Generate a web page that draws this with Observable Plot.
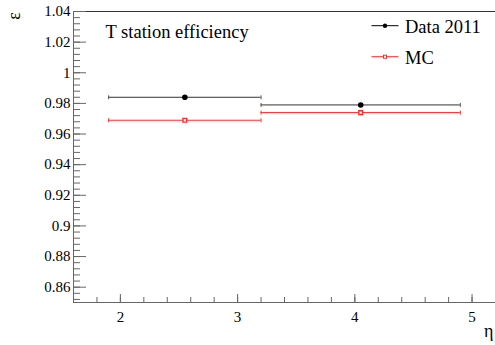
<!DOCTYPE html>
<html>
<head>
<meta charset="utf-8">
<script src="https://cdn.jsdelivr.net/npm/d3@7"></script>
<script src="https://cdn.jsdelivr.net/npm/@observablehq/plot@0.6"></script>
<style>
  body { margin: 0; background: #fff; }
  #chart svg { display: block; }
  #chart svg text { font-family: "Liberation Serif", "Times New Roman", serif; }
</style>
</head>
<body>
<div id="chart"></div>
<script>
// Pseudorapidity bins and measured T station efficiencies
const binLow = [1.9, 3.2];
const binHigh = [3.2, 4.9];
const binCenter = [2.55, 4.05];
const dataEff = [0.984, 0.979];   // Data 2011
const mcEff = [0.969, 0.974];     // MC

const xDomain = [1.6, 5.2];
const yDomain = [0.85, 1.04];
const xMajor = [2, 3, 4, 5];
const yMajor = [0.86, 0.88, 0.9, 0.92, 0.94, 0.96, 0.98, 1, 1.02, 1.04];
const xMinor = d3.range(8, 27).map(k => +(k * 0.2).toFixed(2));
const yMinor = d3.range(213, 261).map(k => +(k * 0.004).toFixed(3));

const seriesNames = ["Data 2011", "MC"];
const title = "T station efficiency";

const rows = binCenter.map((c, i) => ({
  lo: binLow[i], hi: binHigh[i], x: c, data: dataEff[i], mc: mcEff[i]
}));

// small vertical end cap for the horizontal bin-width bars
const cap = {
  draw(ctx, size) {
    const r = Math.sqrt(size / Math.PI);
    ctx.moveTo(0, -r);
    ctx.lineTo(0, r);
  }
};

const font = "'Liberation Serif', 'Times New Roman', serif";
const tickColor = "#666";
const red = "#ff2a2a";

const chart = Plot.plot({
  width: 495,
  height: 345,
  marginLeft: 73,
  marginRight: 0,
  marginTop: 11,
  marginBottom: 43,
  style: { fontFamily: font, fontSize: "15px", background: "#fff", color: "#000" },
  x: { domain: xDomain, axis: null },
  y: { domain: yDomain, axis: null },
  marks: [
    // frame lines
    Plot.ruleY([yDomain[1]], { stroke: "#333", strokeWidth: 1 }),
    Plot.ruleX([xDomain[0]], { stroke: tickColor, strokeWidth: 1 }),
    Plot.ruleY([yDomain[0]], { stroke: tickColor, strokeWidth: 1 }),

    // y axis: inward ticks and labels
    Plot.axisY(yMajor, { anchor: "left", tickSize: -13, text: null, stroke: tickColor }),
    Plot.axisY(yMinor, { anchor: "left", tickSize: -7, text: null, stroke: tickColor }),
    Plot.axisY(yMajor, { anchor: "left", tickSize: 0, tickPadding: 3, fontSize: 15,
      tickFormat: d => d3.format("~g")(d), fill: "#000" }),

    // x axis: inward ticks and labels
    Plot.axisX(xMajor, { anchor: "bottom", tickSize: -8, text: null, stroke: tickColor }),
    Plot.axisX(xMinor, { anchor: "bottom", tickSize: -5, text: null, stroke: tickColor }),
    Plot.axisX(xMajor, { anchor: "bottom", tickSize: 0, tickPadding: 9, fontSize: 15,
      tickFormat: d => String(d), fill: "#000" }),

    // MC
    Plot.ruleY(rows, { y: "mc", x1: "lo", x2: "hi", stroke: red, strokeWidth: 1 }),
    Plot.dot(rows, { x: "lo", y: "mc", symbol: cap, r: 2, stroke: red, strokeWidth: 1 }),
    Plot.dot(rows, { x: "hi", y: "mc", symbol: cap, r: 2, stroke: red, strokeWidth: 1 }),
    Plot.dot(rows, { x: "x", y: "mc", symbol: "square", r: 2.1, stroke: red, strokeWidth: 1.4, fill: "#fff" }),

    // Data 2011
    Plot.ruleY(rows, { y: "data", x1: "lo", x2: "hi", stroke: "#333", strokeWidth: 1 }),
    Plot.dot(rows, { x: "lo", y: "data", symbol: cap, r: 2, stroke: "#555", strokeWidth: 1 }),
    Plot.dot(rows, { x: "hi", y: "data", symbol: cap, r: 2, stroke: "#555", strokeWidth: 1 }),
    Plot.dot(rows, { x: "x", y: "data", r: 2.8, fill: "#000", stroke: "none" }),

    // title inside the frame
    Plot.text([title], { frameAnchor: "top-left", dx: 32, dy: 26, textAnchor: "start",
      lineAnchor: "bottom", fontSize: 18.5, fill: "#000" }),

    // axis titles
    Plot.text(["ε"], { frameAnchor: "top-left", dx: -54, dy: 4.5, rotate: -90,
      textAnchor: "middle", lineAnchor: "bottom", fontSize: 18, fill: "#000" }),
    Plot.text(["η"], { frameAnchor: "bottom-right", dx: -2, dy: 34, textAnchor: "end",
      lineAnchor: "bottom", fontSize: 18, fill: "#000" })
  ]
});

document.getElementById("chart").appendChild(chart);

// legend in the upper right of the frame
const svg = d3.select(chart);
const legend = svg.append("g").attr("font-size", 18.5).attr("text-anchor", "start");
const entries = [
  { name: seriesNames[0], y: 25.7, color: "#000", marker: "circle" },
  { name: seriesNames[1], y: 56.7, color: red, marker: "square" }
];
entries.forEach(e => {
  legend.append("line").attr("x1", 371.5).attr("x2", 398.5).attr("y1", e.y).attr("y2", e.y)
    .attr("stroke", e.color).attr("stroke-width", 1);
  if (e.marker === "circle") {
    legend.append("circle").attr("cx", 385).attr("cy", e.y).attr("r", 2.2).attr("fill", e.color);
  } else {
    legend.append("rect").attr("x", 383.5).attr("y", e.y - 1.5).attr("width", 3).attr("height", 3)
      .attr("fill", "#fff").attr("stroke", e.color).attr("stroke-width", 1);
  }
  legend.append("text").attr("x", 405).attr("y", e.y + 7.3).attr("fill", "#000")
    .attr("text-anchor", "start").text(e.name);
});
</script>
</body>
</html>
